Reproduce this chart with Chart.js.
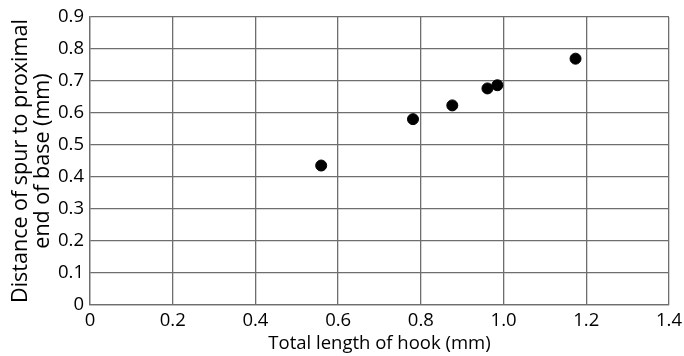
<!DOCTYPE html>
<html>
<head>
<meta charset="utf-8">
<script src="https://cdn.jsdelivr.net/npm/chart.js@4"></script>
<style>
  html, body { margin: 0; padding: 0; background: #fff; }
  #wrap { width: 684px; height: 356px; }
</style>
</head>
<body>
<div id="wrap"><canvas id="myChart" width="684" height="356"></canvas></div>
<script>
var hookLength = [0.559, 0.781, 0.876, 0.961, 0.985, 1.174];
var spurDistance = [0.436, 0.581, 0.624, 0.677, 0.687, 0.770];
var xTickLabels = ['0', '0.2', '0.4', '0.6', '0.8', '1.0', '1.2', '1.4'];
var yTickLabels = ['0', '0.1', '0.2', '0.3', '0.4', '0.5', '0.6', '0.7', '0.8', '0.9'];

var points = hookLength.map(function (x, i) { return { x: x, y: spurDistance[i] }; });
var gridColor = '#6e6e6e';
var tickFont = { family: 'Open Sans', size: 18.5 };

var ctx = document.getElementById('myChart').getContext('2d');
var myChart = new Chart(ctx, {
  type: 'scatter',
  data: {
    datasets: [{
      data: points,
      backgroundColor: '#000000',
      borderColor: '#000000',
      pointRadius: 5.5,
      pointHoverRadius: 5.5
    }]
  },
  options: {
    responsive: false,
    animation: false,
    layout: { padding: { left: 4, top: 9, right: 15, bottom: 3 } },
    plugins: {
      legend: { display: false },
      tooltip: { enabled: false }
    },
    scales: {
      x: {
        type: 'linear',
        min: 0,
        max: 1.4,
        afterBuildTicks: function (axis) {
          axis.ticks = xTickLabels.map(function (t) { return { value: parseFloat(t) }; });
        },
        afterFit: function (axis) {
          axis.height = 48;
          axis.paddingRight = 0;
        },
        ticks: {
          color: '#000',
          font: tickFont,
          padding: 5,
          maxRotation: 0,
          callback: function (v, i) { return xTickLabels[i]; }
        },
        grid: { color: gridColor, lineWidth: 1.3, drawTicks: false },
        border: { color: gridColor, width: 1.3 },
        title: {
          display: true,
          text: 'Total length of hook (mm)',
          color: '#000',
          font: { family: 'Open Sans', size: 18.5, lineHeight: 1.2 },
          padding: { top: 0, bottom: -2 }
        }
      },
      y: {
        min: 0,
        max: 0.9,
        afterBuildTicks: function (axis) {
          axis.ticks = yTickLabels.map(function (t) { return { value: parseFloat(t) }; });
        },
        afterFit: function (axis) { axis.width = 86; },
        ticks: {
          color: '#000',
          font: tickFont,
          padding: 6,
          callback: function (v, i) { return yTickLabels[i]; }
        },
        grid: { color: gridColor, lineWidth: 1.3, drawTicks: false },
        border: { color: gridColor, width: 1.3 },
        title: {
          display: true,
          text: ['Distance of spur to proximal', 'end of base (mm)'],
          color: '#000',
          font: { family: 'Open Sans', size: 21.5, lineHeight: 1.02 },
          padding: { top: 6, bottom: 0 }
        }
      }
    }
  }
});
</script>
</body>
</html>
